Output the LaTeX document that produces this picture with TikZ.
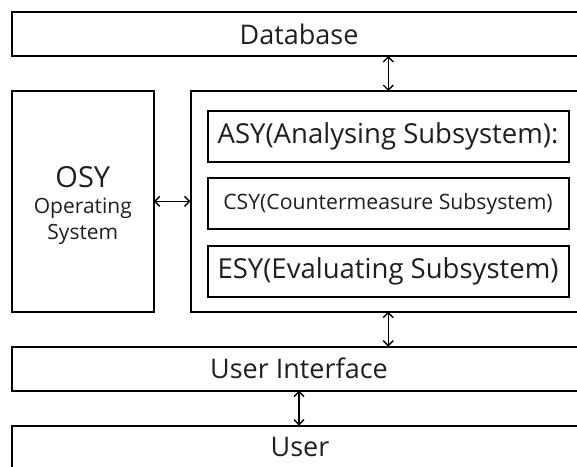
\documentclass[tikz,border=0pt]{standalone}
\usepackage{fontspec}
\setmainfont{Open Sans}
\usetikzlibrary{arrows.meta}
\begin{document}
\begin{tikzpicture}[x=1pt,y=-1pt,
  box/.style={draw=black, line width=2pt, inner sep=0pt, outer sep=0pt, text=black!88},
  link/.style={line width=1.4pt, {Straight Barb[length=5pt,width=10pt]}-{Straight Barb[length=5pt,width=10pt]}},
  bigfont/.style={font=\fontsize{27}{30}\selectfont}]
\useasboundingbox (0,0) rectangle (577,466);
\clip (0,0) rectangle (577,466);
% Database
\node[box, bigfont, minimum width=574pt, minimum height=44pt] (db) at (299,34) {Database};
% OSY
\node[box, minimum width=141.7pt, minimum height=220.7pt] (osy) at (82.85,201.35) {};
\node[font=\fontsize{29}{30}\selectfont, text=black!88] (osyt) at (82.85,177.5) {OSY};
\node[font=\fontsize{21}{25}\selectfont, text=black!88, align=center] (osyd) at (82.85,221) {Operating\\[1pt]System};
% big box
\node[box, minimum width=395.5pt, minimum height=220.7pt] (big) at (388.25,201.35) {};
\node[box, font=\fontsize{27.5}{30}\selectfont, minimum width=361pt, minimum height=50.7pt] (asy) at (388,136.35) {ASY(Analysing Subsystem):};
\node[box, font=\fontsize{21.2}{25}\selectfont, minimum width=361pt, minimum height=51.6pt] (csy) at (388,203.5) {CSY(Countermeasure Subsystem)};
\node[box, font=\fontsize{27.5}{30}\selectfont, minimum width=361pt, minimum height=51pt] (esy) at (388,271.2) {ESY(Evaluating Subsystem)};
% UI and User
\node[box, bigfont, minimum width=574pt, minimum height=44pt] (ui) at (299,368.7) {User Interface};
\node[box, minimum width=574pt, minimum height=60pt] (user) at (299,455.7) {};
\node[bigfont, text=black!88] (usert) at (300,447) {User};
% connectors
\draw[link] (big.north) -- (big.north |- db.south);
\draw[link] (osy.east) -- (osy.east -| big.west);
\draw[link] (big.south) -- (big.south |- ui.north);
\draw[link] (ui.south) -- (ui.south |- user.north);
\end{tikzpicture}
\end{document}
